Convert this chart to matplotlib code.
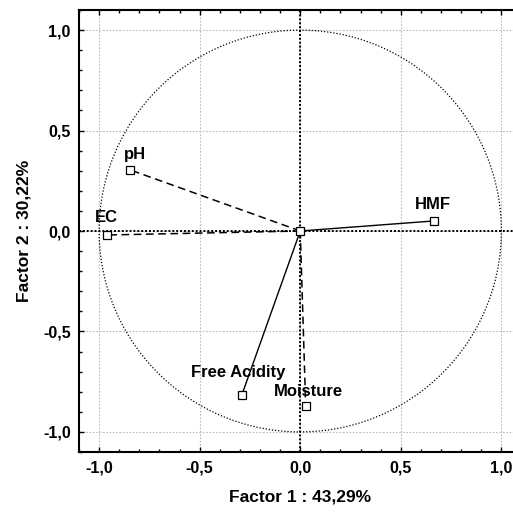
import matplotlib
matplotlib.use("Agg")
import matplotlib.pyplot as plt
import numpy as np
from matplotlib.ticker import MultipleLocator, FuncFormatter

variables = ["pH", "EC", "HMF", "Free Acidity", "Moisture"]
factor1 = [-0.848, -0.963, 0.664, -0.290, 0.027]
factor2 = [0.305, -0.020, 0.050, -0.815, -0.870]
line_styles = ["dashed", "dashed", "solid", "solid", "dashed"]
label_offsets = [(0.025, 0.075), (0.0, 0.085), (-0.005, 0.08), (-0.02, 0.11), (0.015, 0.07)]
xlabel = "Factor 1 : 43,29%"
ylabel = "Factor 2 : 30,22%"

plt.rcParams['font.family'] = ['Liberation Sans', 'DejaVu Sans']

fig = plt.figure(figsize=(5.13, 5.13), dpi=100)
W = H = 513.0
left, right, top, bottom = 79, 521.5, 10, 452
ax = fig.add_axes([left / W, 1 - bottom / H, (right - left) / W, (bottom - top) / H])
ax.set_xlim(-1.1, 1.1)
ax.set_ylim(-1.1, 1.1)

ax.grid(True, which='major', color='#bbbbbb', linestyle=(0, (1.5, 1.5)), linewidth=0.8)
ax.set_axisbelow(True)

# unit circle
t = np.linspace(0, 2 * np.pi, 400)
ax.plot(np.cos(t), np.sin(t), color='black', linestyle=(0, (1, 1.5)), linewidth=0.9)
# axes through origin
ax.axhline(0, color='black', linestyle=(0, (1, 1)), linewidth=1.4)
ax.axvline(0, color='black', linestyle=(0, (1, 1)), linewidth=1.4)

for x, y, ls, name, off in zip(factor1, factor2, line_styles, variables, label_offsets):
    if ls == "dashed":
        ax.plot([0, x], [0, y], color='black', linestyle=(0, (5, 3)), linewidth=1.1)
    else:
        ax.plot([0, x], [0, y], color='black', linestyle='-', linewidth=1.0)
    ax.plot([x], [y], marker='s', markersize=5.5, markerfacecolor='white',
            markeredgecolor='black', markeredgewidth=0.9, linestyle='none', zorder=5)
    ax.text(x + off[0], y + off[1], name, ha='center', va='center',
            fontsize=12, fontweight='bold', zorder=6)

ax.plot([0], [0], marker='s', markersize=5.5, markerfacecolor='white',
        markeredgecolor='black', markeredgewidth=0.9, zorder=5)

ax.xaxis.set_major_locator(MultipleLocator(0.5))
ax.yaxis.set_major_locator(MultipleLocator(0.5))
ax.xaxis.set_minor_locator(MultipleLocator(0.1))
ax.yaxis.set_minor_locator(MultipleLocator(0.1))
fmt = FuncFormatter(lambda v, p: ("%.1f" % v).replace('.', ',').replace('-0,0', '0,0'))
ax.xaxis.set_major_formatter(fmt)
ax.yaxis.set_major_formatter(fmt)
ax.tick_params(which='both', direction='in', top=True, right=False, width=1.0)
ax.tick_params(which='major', length=3.5, labelsize=11.5)
ax.tick_params(which='minor', length=2)
for lab in ax.get_xticklabels() + ax.get_yticklabels():
    lab.set_fontweight('bold')
ax.tick_params(axis='x', pad=6)
ax.tick_params(axis='y', pad=6)

for s in ax.spines.values():
    s.set_linewidth(1.5)

ax.set_xlabel(xlabel, fontsize=12.5, fontweight='bold', labelpad=10)
ax.set_ylabel(ylabel, fontsize=12.5, fontweight='bold', labelpad=8)

fig.savefig("out.png", dpi=100)
